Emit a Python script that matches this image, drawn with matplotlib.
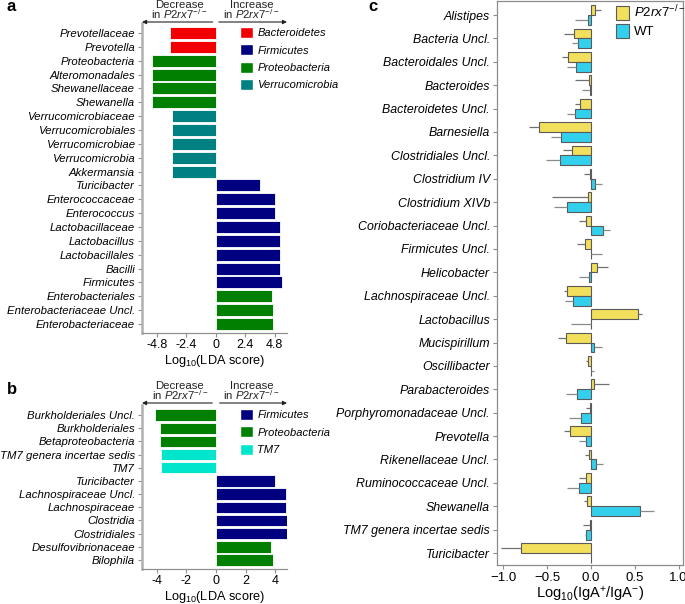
import numpy as np
import matplotlib
matplotlib.use("Agg")
import matplotlib.pyplot as plt
from matplotlib.patches import Patch
from matplotlib.transforms import blended_transform_factory

plt.rcParams['font.family'] = ['Liberation Sans', 'DejaVu Sans']
plt.rcParams['mathtext.fontset'] = 'custom'
plt.rcParams['mathtext.rm'] = 'Liberation Sans'
plt.rcParams['mathtext.it'] = 'Liberation Sans:italic'

# ---- panel a data (LEfSe) ----
a_taxa = ['Prevotellaceae', 'Prevotella', 'Proteobacteria', 'Alteromonadales',
          'Shewanellaceae', 'Shewanella', 'Verrucomicrobiaceae', 'Verrucomicrobiales',
          'Verrucomicrobiae', 'Verrucomicrobia', 'Akkermansia', 'Turicibacter',
          'Enterococcaceae', 'Enterococcus', 'Lactobacillaceae', 'Lactobacillus',
          'Lactobacillales', 'Bacilli', 'Firmicutes', 'Enterobacteriales',
          'Enterobacteriaceae Uncl.', 'Enterobacteriaceae']
a_lda = [-3.74, -3.74, -5.15, -5.15, -5.15, -5.15, -3.58, -3.58, -3.58, -3.58, -3.58,
         3.63, 4.80, 4.80, 5.26, 5.26, 5.26, 5.26, 5.37, 4.60, 4.63, 4.65]
a_phylum = ['Bacteroidetes'] * 2 + ['Proteobacteria'] * 4 + ['Verrucomicrobia'] * 5 + \
           ['Firmicutes'] * 8 + ['Proteobacteria'] * 3
a_legend = ['Bacteroidetes', 'Firmicutes', 'Proteobacteria', 'Verrucomicrobia']

# ---- panel b data ----
b_taxa = ['Burkholderiales Uncl.', 'Burkholderiales', 'Betaproteobacteria',
          'TM7 genera incertae sedis', 'TM7', 'Turicibacter', 'Lachnospiraceae Uncl.',
          'Lachnospiraceae', 'Clostridia', 'Clostridiales', 'Desulfovibrionaceae', 'Bilophila']
b_lda = [-4.10, -3.78, -3.78, -3.74, -3.74, 3.99, 4.73, 4.73, 4.86, 4.86, 3.74, 3.83]
b_phylum = ['Proteobacteria'] * 3 + ['TM7'] * 2 + ['Firmicutes'] * 5 + ['Proteobacteria'] * 2
b_legend = ['Firmicutes', 'Proteobacteria', 'TM7']

phylum_colors = {'Bacteroidetes': '#F20000', 'Firmicutes': '#000080',
                 'Proteobacteria': '#007F00', 'Verrucomicrobia': '#008080',
                 'TM7': '#00E5CC'}

# ---- panel c data (IgA index) ----
c_taxa = ['Alistipes', 'Bacteria Uncl.', 'Bacteroidales Uncl.', 'Bacteroides',
          'Bacteroidetes Uncl.', 'Barnesiella', 'Clostridiales Uncl.', 'Clostridium IV',
          'Clostridium XIVb', 'Coriobacteriaceae Uncl.', 'Firmicutes Uncl.', 'Helicobacter',
          'Lachnospiraceae Uncl.', 'Lactobacillus', 'Mucispirillum', 'Oscillibacter',
          'Parabacteroides', 'Porphyromonadaceae Uncl.', 'Prevotella', 'Rikenellaceae Uncl.',
          'Ruminococcaceae Uncl.', 'Shewanella', 'TM7 genera incertae sedis', 'Turicibacter']
ko_mean = [0.05, -0.19, -0.26, -0.02, -0.12, -0.59, -0.21, -0.005, -0.03, -0.05, -0.07,
           0.07, -0.27, 0.54, -0.28, -0.03, 0.04, -0.005, -0.24, -0.02, -0.05, -0.04,
           -0.005, -0.80]
ko_err = [0.07, 0.12, 0.07, 0.16, 0.06, 0.12, 0.11, 0.075, 0.41, 0.08, 0.09, 0.13, 0.04,
          0.04, 0.09, 0.02, 0.17, 0.045, 0.07, 0.05, 0.09, 0.04, 0.085, 0.22]
wt_mean = [-0.03, -0.15, -0.17, -0.005, -0.18, -0.34, -0.35, 0.05, -0.27, 0.14, 0.005,
           -0.02, -0.20, -0.003, 0.04, 0.005, -0.16, -0.11, -0.05, 0.06, -0.13, 0.56,
           -0.05, 0.0]
wt_err = [0.15, 0.06, 0.10, 0.095, 0.09, 0.11, 0.16, 0.08, 0.15, 0.08, 0.12, 0.11, 0.09,
          0.22, 0.09, 0.035, 0.12, 0.14, 0.09, 0.08, 0.14, 0.16, 0.02, 0.0]

W, H = 685, 604
fig = plt.figure(figsize=(6.85, 6.04), dpi=100)


def fy(px):
    # pixel row from top -> figure fraction
    return 1 - px / H


def lefse_panel(ax, taxa, lda, phyla, legend_names, xlim, ticks, ticklabels, ylim,
                leg_top, arrow_px):
    y = np.arange(len(taxa))
    cols = [phylum_colors[p] for p in phyla]
    ax.barh(y, lda, height=0.86, color=cols, edgecolor='white', linewidth=0.6)
    ax.set_xlim(*xlim)
    ax.set_ylim(*ylim)
    ax.set_yticks(y)
    ax.set_yticklabels(taxa, fontstyle='italic', fontsize=8.2)
    ax.set_xticks(ticks)
    ax.set_xticklabels(ticklabels, fontsize=9)
    for s in ['top', 'right']:
        ax.spines[s].set_visible(False)
    ax.spines['left'].set_color('#B0B0B0')
    ax.spines['left'].set_linewidth(1.8)
    ax.spines['bottom'].set_color('#909090')
    ax.spines['bottom'].set_linewidth(0.9)
    ax.tick_params(axis='y', length=3, color='#909090', pad=2)
    ax.tick_params(axis='x', length=3, color='#909090', pad=1.5)
    ax.set_xlabel(r'Log$_{10}$(LDA score)', fontsize=9.2, labelpad=1)
    handles = [Patch(facecolor=phylum_colors[n], edgecolor='white', label=n) for n in legend_names]
    ax.legend(handles=handles, loc='upper left', bbox_to_anchor=(240 / W, fy(leg_top)),
              bbox_transform=fig.transFigure, frameon=False,
              prop={'style': 'italic', 'size': 8.0}, handlelength=1.15, handleheight=1.15,
              handletextpad=0.4, labelspacing=0.55, borderpad=0, borderaxespad=0)
    # direction arrows above the axis
    tr = blended_transform_factory(ax.transData, fig.transFigure)
    ya = fy(arrow_px)
    for xe, xs in [(xlim[0], -0.25), (xlim[1], 0.25)]:
        ax.annotate('', xy=(xe, ya), xytext=(xs, ya), xycoords=tr, textcoords=tr,
                    arrowprops=dict(arrowstyle='-|>', color='#222222', lw=0.8,
                                    mutation_scale=6, shrinkA=0, shrinkB=0),
                    annotation_clip=False)
    for xc, word in [(xlim[0] * 0.49, 'Decrease'), (xlim[1] * 0.5, 'Increase')]:
        ax.text(xc, fy(arrow_px - 14), word, transform=tr, ha='center', va='baseline',
                fontsize=8.2, color='#222222')
        ax.text(xc, fy(arrow_px - 3), 'in $\\it{P2rx7}^{-/-}$', transform=tr, ha='center',
                va='baseline', fontsize=8.2, color='#222222')


ax_a = fig.add_axes([142 / W, fy(333), 145 / W, 310 / H])
lefse_panel(ax_a, a_taxa, a_lda, a_phylum, a_legend, (-6.0, 5.8),
            [-4.8, -2.4, 0, 2.4, 4.8], ['-4.8', '-2.4', '0', '2.4', '4.8'],
            (len(a_taxa) - 1 + 0.65, -0.72), 27, 22)

ax_b = fig.add_axes([142 / W, fy(569), 145 / W, 164 / H])
lefse_panel(ax_b, b_taxa, b_lda, b_phylum, b_legend, (-5.0, 4.8),
            [-4, -2, 0, 2, 4], ['-4', '-2', '0', '2', '4'],
            (len(b_taxa) - 1 + 0.68, -0.76), 409, 403)

# ---- panel c ----
ax_c = fig.add_axes([497 / W, fy(565), 186 / W, 564 / H])
yc = np.arange(len(c_taxa))
ko_mean = np.array(ko_mean)
wt_mean = np.array(wt_mean)
ko_err = np.array(ko_err)
wt_err = np.array(wt_err)
yellow = '#F2DF5C'
blue = '#33D0EE'
ax_c.barh(yc - 0.21, ko_mean, height=0.42, color=yellow, edgecolor='#5A5A5A', linewidth=0.8,
          label='$\\it{P2rx7}^{-/-}$')
ax_c.barh(yc + 0.21, wt_mean, height=0.42, color=blue, edgecolor='#5A5A5A', linewidth=0.8,
          label='WT')
ko_x = np.vstack([np.where(ko_mean < 0, ko_err, 0), np.where(ko_mean >= 0, ko_err, 0)])
wt_x = np.vstack([np.where(wt_mean < 0, wt_err, 0), np.where(wt_mean >= 0, wt_err, 0)])
ax_c.errorbar(ko_mean, yc - 0.21, xerr=ko_x, fmt='none', ecolor='#707070', elinewidth=0.9,
              capsize=0)
ax_c.errorbar(wt_mean, yc + 0.21, xerr=wt_x, fmt='none', ecolor='#8A8A8A', elinewidth=0.9,
              capsize=0)
ax_c.set_xlim(-1.07, 1.05)
ax_c.set_ylim(len(c_taxa) - 1 + 0.51, -0.6)
ax_c.set_yticks(yc)
ax_c.set_yticklabels(c_taxa, fontstyle='italic', fontsize=8.9)
ax_c.set_xticks([-1.0, -0.5, 0.0, 0.5, 1.0])
ax_c.set_xticklabels(['\u22121.0', '\u22120.5', '0.0', '0.5', '1.0'], fontsize=9.5)
for s in ax_c.spines.values():
    s.set_color('#8C8C8C')
    s.set_linewidth(0.9)
ax_c.tick_params(axis='both', length=3, color='#8C8C8C', pad=2)
ax_c.set_xlabel(r'Log$_{10}$(IgA$^{+}$/IgA$^{-}$)', fontsize=10.5, labelpad=1)
ax_c.legend(loc='upper left', bbox_to_anchor=(616 / W, fy(4)),
            bbox_transform=fig.transFigure, frameon=False, fontsize=9.5,
            handlelength=1.0, handleheight=1.25, handletextpad=0.35, labelspacing=0.25,
            borderpad=0, borderaxespad=0)

fig.text(6 / W, fy(-1), 'a', fontsize=12, fontweight='bold', va='top')
fig.text(7 / W, fy(382), 'b', fontsize=12, fontweight='bold', va='top')
fig.text(368 / W, fy(-1), 'c', fontsize=12, fontweight='bold', va='top')

fig.savefig('out.png', dpi=100)
